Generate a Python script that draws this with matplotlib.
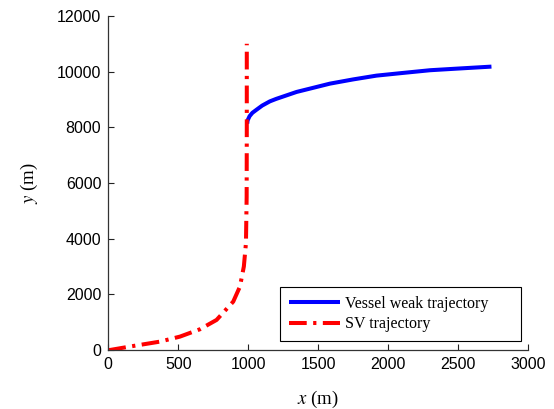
import matplotlib
matplotlib.use('Agg')
import matplotlib.pyplot as plt

# ── Trajectory data ────────────────────────────────────────────────────────
sv_x = [0, 12, 179, 369, 512, 655, 774, 893, 941, 969, 984, 989, 990, 990]
sv_y = [0, 0, 144, 300, 480, 744, 1080, 1737, 2277, 3000, 3838, 5500, 8000, 11000]

vessel_x = [993, 996, 1010, 1030, 1060, 1100, 1155, 1200, 1346, 1450, 1584,
            1750, 1917, 2100, 2300, 2500, 2739]
vessel_y = [8130, 8250, 8400, 8520, 8633, 8780, 8932, 9020, 9270, 9400, 9568,
            9720, 9856, 9950, 10050, 10110, 10180]

x_ticks = [0, 500, 1000, 1500, 2000, 2500, 3000]
y_ticks = [0, 2000, 4000, 6000, 8000, 10000, 12000]

plt.rcParams['mathtext.fontset'] = 'stix'

fig = plt.figure(figsize=(5.54, 4.09), dpi=100)
ax = fig.add_axes([0.1955, 0.1443, 0.7575, 0.8167])

ax.plot(vessel_x, vessel_y, color='#0000FF', lw=2.9, label='Vessel weak trajectory',
        solid_capstyle='butt', solid_joinstyle='round')
ax.plot(sv_x, sv_y, color='#FF0000', lw=2.9, ls=(0, (4.4, 1.6, 0.8, 1.6)),
        label='SV trajectory')

ax.set_xlim(0, 3000)
ax.set_ylim(0, 12000)
ax.set_xticks(x_ticks)
ax.set_yticks(y_ticks)
ax.tick_params(direction='in', length=4, width=0.8, labelsize=11.5, colors='#222222',
               pad=5)
for lbl in ax.get_xticklabels() + ax.get_yticklabels():
    lbl.set_fontfamily('Liberation Sans')
    lbl.set_color('black')
ax.spines['top'].set_visible(False)
ax.spines['right'].set_visible(False)
for s in ('left', 'bottom'):
    ax.spines[s].set_color('#333333')
    ax.spines[s].set_linewidth(0.9)

ax.set_xlabel('$x$ (m)', fontfamily='Liberation Serif', fontsize=13.5, labelpad=12)
ax.set_ylabel('$y$ (m)', fontfamily='Liberation Serif', fontsize=13.5, labelpad=12)

leg = ax.legend(loc='lower right', bbox_to_anchor=(0.409, 0.027, 0.574, 0.2),
                mode='expand', borderaxespad=0,
                prop={'family': 'Liberation Serif', 'size': 11.5},
                fancybox=False, framealpha=1, edgecolor='black',
                handlelength=3.2, handletextpad=0.35, labelspacing=0.28,
                borderpad=0.55)
leg.get_frame().set_linewidth(0.8)

fig.savefig('out.png', dpi=100)
